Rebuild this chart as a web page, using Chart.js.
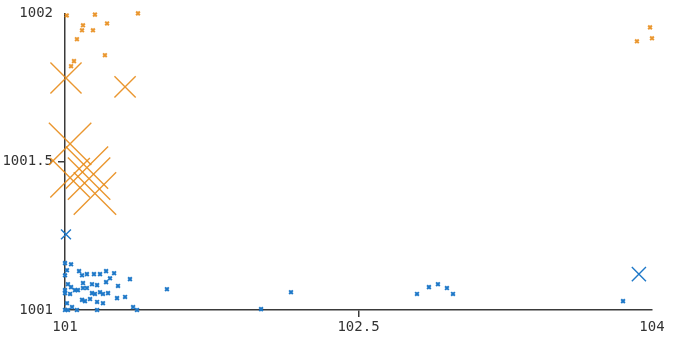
<!DOCTYPE html>
<html>
<head>
<meta charset="utf-8">
<script src="https://cdn.jsdelivr.net/npm/chart.js@4"></script>
<style>
html,body{margin:0;padding:0;background:#fff;}
#wrap{width:675px;height:338px;}
</style>
</head>
<body>
<div id="wrap"><canvas id="c"></canvas></div>
<script>
const xTicks = [101, 102.5, 104];
const yTicks = [1001, 1001.5, 1002];

const blueX = [101.0,101.031,101.072,101.010,101.0,101.087,101.112,101.148,101.179,101.210,101.251,101.230,101.210,101.332,101.015,101.092,101.138,101.164,101.271,101.521,101.031,101.051,101.066,101.092,101.112,101.0,101.0,101.026,101.138,101.153,101.179,101.194,101.220,101.087,101.102,101.128,101.164,101.194,101.266,101.307,101.010,101.036,101.015,101.061,101.164,101.348,101.368,101.0,102.002,102.155,102.799,102.860,102.906,102.952,102.983,103.852,101.005,103.933];
const blueY = [1001.158,1001.154,1001.131,1001.134,1001.117,1001.117,1001.121,1001.121,1001.121,1001.131,1001.124,1001.107,1001.094,1001.104,1001.087,1001.091,1001.087,1001.084,1001.081,1001.070,1001.077,1001.067,1001.067,1001.074,1001.074,1001.067,1001.057,1001.054,1001.057,1001.054,1001.060,1001.054,1001.057,1001.034,1001.030,1001.037,1001.027,1001.023,1001.040,1001.044,1001.023,1001.010,1001.0,1001.0,1001.0,1001.010,1001.0,1001.0,1001.003,1001.060,1001.054,1001.077,1001.087,1001.074,1001.054,1001.030,1001.255,1001.121];
const blueR = [2.6,2.6,2.6,2.6,2.6,2.6,2.6,2.6,2.6,2.6,2.6,2.6,2.6,2.6,2.6,2.6,2.6,2.6,2.6,2.6,2.6,2.6,2.6,2.6,2.6,2.6,2.6,2.6,2.6,2.6,2.6,2.6,2.6,2.6,2.6,2.6,2.6,2.6,2.6,2.6,2.6,2.6,2.6,2.6,2.6,2.6,2.6,2.6,2.6,2.6,2.6,2.6,2.6,2.6,2.6,2.6,7,10];

const orangeX = [101.009,101.153,101.373,101.092,101.087,101.143,101.215,101.061,101.204,101.046,101.031,103.990,103.923,104.0,101.005,101.307,101.026,101.112,101.026,101.123,101.153];
const orangeY = [1001.993,1001.996,1002.0,1001.960,1001.943,1001.943,1001.966,1001.913,1001.859,1001.839,1001.822,1001.953,1001.906,1001.916,1001.782,1001.752,1001.560,1001.480,1001.446,1001.443,1001.393];
const orangeR = [2.6,2.6,2.6,2.6,2.6,2.6,2.6,2.6,2.6,2.6,2.6,2.6,2.6,2.6,22,15,30,30,28,30,30];

function pts(xs, ys, rs){ return xs.map((x,i)=>({x:x, y:ys[i], r:rs[i]})); }
function bw(rs){ return rs.map(r => r > 4 ? 1.4 : 2); }

const BLUE = 'rgba(30,120,200,1)';
const ORANGE = 'rgba(232,140,25,0.9)';

new Chart(document.getElementById('c'), {
  type: 'bubble',
  data: {
    datasets: [
      { data: pts(blueX, blueY, blueR), pointStyle: 'crossRot', borderColor: BLUE, backgroundColor: BLUE, borderWidth: bw(blueR), clip: false },
      { data: pts(orangeX, orangeY, orangeR), pointStyle: 'crossRot', borderColor: ORANGE, backgroundColor: ORANGE, borderWidth: bw(orangeR), clip: false }
    ]
  },
  options: {
    responsive: true,
    maintainAspectRatio: false,
    animation: false,
    events: [],
    layout: { autoPadding: false, padding: { left: 0, right: 23, top: 12, bottom: 0 } },
    plugins: { legend: { display: false }, tooltip: { enabled: false } },
    scales: {
      x: {
        type: 'linear', min: 101, max: 104,
        afterBuildTicks: s => { s.ticks = xTicks.map(v => ({value: v})); },
        afterFit: s => { s.height = 28; },
        border: { display: true, color: '#3a3a3a', width: 1.5 },
        grid: { drawOnChartArea: false, drawTicks: true, tickLength: 7,
                tickColor: ctx => (ctx.tick && ctx.tick.value === 102.5) ? '#3a3a3a' : 'rgba(0,0,0,0)', lineWidth: 1.5 },
        ticks: { color: '#333', padding: 2, maxRotation: 0, font: { family: 'DejaVu Sans Mono', size: 14 },
                 callback: v => String(v) }
      },
      y: {
        type: 'linear', min: 1001, max: 1002,
        afterBuildTicks: s => { s.ticks = yTicks.map(v => ({value: v})); },
        afterFit: s => { s.width = 65; },
        border: { display: true, color: '#3a3a3a', width: 1.5 },
        grid: { drawOnChartArea: false, drawTicks: true, tickLength: 7,
                tickColor: ctx => (ctx.tick && ctx.tick.value === 1001.5) ? '#3a3a3a' : 'rgba(0,0,0,0)', lineWidth: 1.5 },
        ticks: { color: '#333', padding: 5, font: { family: 'DejaVu Sans Mono', size: 14 },
                 callback: v => String(v) }
      }
    }
  }
});
</script>
</body>
</html>
